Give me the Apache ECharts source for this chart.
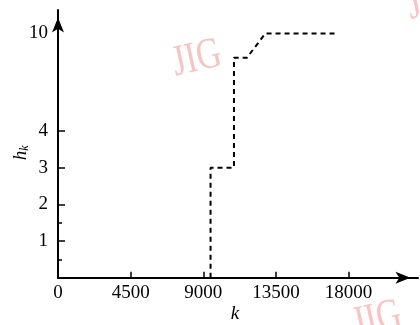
<!DOCTYPE html>
<html><head><meta charset="utf-8">
<script src="https://cdn.jsdelivr.net/npm/echarts@6/dist/echarts.min.js"></script>
<style>html,body{margin:0;padding:0;background:#fff}#c{width:420px;height:325px}</style>
</head><body><div id="c"></div>
<script>
// data
const kValues = [9450, 9450, 10900, 10900, 11700, 12850, 17250];
const hValues = [0, 3, 3, 8.5, 8.5, 10, 10];
const xTickLabels = [0, 4500, 9000, 13500, 18000];
const xTicks = [4500, 9000, 13500, 18000];
const yTickLabels = [1, 2, 3, 4, 10];
const yTicks = [1, 2, 3, 4];
const yMinorTicks = [0.5, 1.5];

// broken y axis: linear up to 4, compressed above it
const BREAK = 4, UPPER_SCALE = 0.4437;
function toAxis(v) { return v <= BREAK ? v : BREAK + (v - BREAK) * UPPER_SCALE; }
function fromAxis(u) {
  for (const t of yTickLabels) if (Math.abs(toAxis(t) - u) < 1e-6) return String(t);
  return '';
}

const FONT = '"Liberation Serif", "DejaVu Serif", serif';
const chart = echarts.init(document.getElementById('c'), null, { renderer: 'canvas' });
const wm = '#f8c3c3';
chart.setOption({
  animation: false,
  backgroundColor: '#fff',
  grid: { left: 58, right: 2, top: 10, bottom: 47.3, containLabel: false, outerBoundsMode: 'none' },
  xAxis: {
    type: 'value', min: 0, max: 22300,
    axisLine: { lineStyle: { color: '#000', width: 2 }, symbol: ['none', 'arrow'], symbolSize: [9, 15], symbolOffset: [0, -7.5] },
    axisTick: { inside: true, length: 6, lineStyle: { color: '#000', width: 1.5 }, customValues: xTicks },
    axisLabel: { customValues: xTickLabels, formatter: v => String(v), color: '#000', fontFamily: FONT, fontSize: 19, margin: 6 },
    splitLine: { show: false }
  },
  yAxis: [{
    type: 'value', min: 0, max: 7.3,
    axisLine: { lineStyle: { color: '#000', width: 2 }, symbol: ['none', 'arrow'], symbolSize: [9, 15], symbolOffset: [0, -7.5] },
    axisTick: { inside: true, length: 7, lineStyle: { color: '#000', width: 1.5 }, customValues: yTicks },
    axisLabel: { customValues: yTickLabels.map(toAxis), formatter: fromAxis, color: '#000', fontFamily: FONT, fontSize: 19, margin: 10 },
    splitLine: { show: false }
  }, {
    type: 'value', min: 0, max: 7.3, position: 'left',
    name: '{h|h}{s|k}', nameLocation: 'middle', nameGap: 27, nameRotate: 90,
    nameTextStyle: { padding: [0, 18, 0, 0],
      rich: { h: { fontFamily: FONT, fontStyle: 'italic', fontSize: 19, color: '#000' },
              s: { fontFamily: FONT, fontStyle: 'italic', fontSize: 12, color: '#000', padding: [8, 0, 0, 0] } } },
    axisLine: { show: false },
    axisTick: { show: true, inside: true, length: 4, lineStyle: { color: '#000', width: 1.5 }, customValues: yMinorTicks },
    axisLabel: { show: false },
    splitLine: { show: false }
  }],
  series: [{
    type: 'line',
    data: kValues.map((k, i) => [k, toAxis(hValues[i])]),
    showSymbol: false,
    lineStyle: { color: '#000', width: 2, type: [5, 4] }
  }],
  graphic: [
    { type: 'text', x: 197, y: 59, rotation: 0.22, scaleX: 0.85, scaleY: 1.1,
      style: { text: 'JIG', fill: wm, font: '40px ' + FONT, align: 'center', verticalAlign: 'middle' }, z: -1 },
    { type: 'text', x: 377, y: 320, rotation: 0.22, scaleX: 0.85, scaleY: 1.1,
      style: { text: 'JIG', fill: wm, font: '40px ' + FONT, align: 'center', verticalAlign: 'middle' }, z: -1 },
    { type: 'text', x: 432, y: 2, rotation: 0.22, scaleX: 0.85, scaleY: 1.1,
      style: { text: 'JIG', fill: wm, font: '40px ' + FONT, align: 'center', verticalAlign: 'middle' }, z: -1 },
    { type: 'text', x: 235, y: 314,
      style: { text: 'k', fill: '#000', font: 'italic 19px ' + FONT, align: 'center', verticalAlign: 'middle' } }
  ]
});
</script></body></html>
